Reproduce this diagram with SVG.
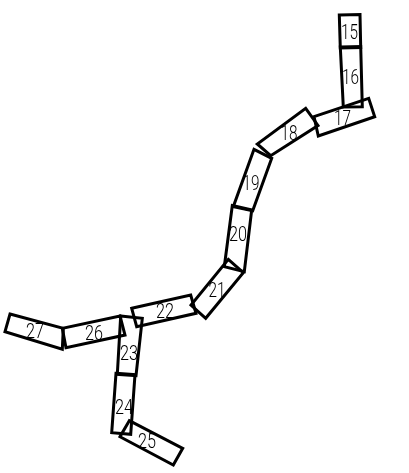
<svg xmlns="http://www.w3.org/2000/svg" width="409" height="473" viewBox="0 0 409 473">
<style>
polygon{fill:none;stroke:#000;stroke-width:3;stroke-linejoin:miter}
text{font-family:"Roboto","Liberation Sans",sans-serif;font-weight:300;font-size:20px;fill:#000;text-anchor:middle}
</style>
<defs><filter id="soft" x="0" y="0" width="409" height="473" filterUnits="userSpaceOnUse"><feGaussianBlur stdDeviation="0.3"/></filter></defs>
<rect width="409" height="473" fill="#fff"/>
<g filter="url(#soft)">
<g id="n15"><polygon points="339.3,15 360,14.5 360.7,47.5 340.3,48"/><text x="349.5" y="39" textLength="17" lengthAdjust="spacingAndGlyphs">15</text></g>
<g id="n16"><polygon points="340.3,47 360.7,46.5 362.3,106.7 343.3,107"/><text x="350.5" y="84" textLength="17" lengthAdjust="spacingAndGlyphs">16</text></g>
<g id="n17"><polygon points="314,116.7 368.7,98.3 374.7,116.7 318.3,136"/><text x="342.5" y="124.5" textLength="17" lengthAdjust="spacingAndGlyphs">17</text></g>
<g id="n18"><polygon points="305.7,108.3 318,125.5 270.7,155.7 257.3,144"/><text x="289" y="140" textLength="17" lengthAdjust="spacingAndGlyphs">18</text></g>
<g id="n19"><polygon points="254,149.3 271.7,158.3 252.7,210.7 233.3,206.7"/><text x="251" y="190" textLength="17" lengthAdjust="spacingAndGlyphs">19</text></g>
<g id="n20"><polygon points="232.3,205.5 251.7,210 244.3,271.7 224.3,266.7"/><text x="238" y="241" textLength="18" lengthAdjust="spacingAndGlyphs">20</text></g>
<g id="n21"><polygon points="228.3,259.3 243.3,272.7 205.7,318.3 191,305"/><text x="217" y="297" textLength="17" lengthAdjust="spacingAndGlyphs">21</text></g>
<g id="n22"><polygon points="131.7,308.3 190.7,295 196,313.3 136.7,326.7"/><text x="165" y="317.5" textLength="18" lengthAdjust="spacingAndGlyphs">22</text></g>
<g id="n23"><polygon points="120.7,316 142.3,318.3 136,375.7 117.3,374.3"/><text x="129" y="359.5" textLength="18" lengthAdjust="spacingAndGlyphs">23</text></g>
<g id="n24"><polygon points="116,373.3 135,374.7 130.7,434.3 111.7,432.7"/><text x="124" y="413.5" textLength="18" lengthAdjust="spacingAndGlyphs">24</text></g>
<g id="n25"><polygon points="129.3,420.7 182.7,448.3 173.3,465 120,436.7"/><text x="147" y="447.5" textLength="18" lengthAdjust="spacingAndGlyphs">25</text></g>
<g id="n26"><polygon points="120,316 125,335 66,347.7 62.3,328.3"/><text x="94" y="339.5" textLength="18" lengthAdjust="spacingAndGlyphs">26</text></g>
<g id="n27"><polygon points="10,314 63.3,328.3 62.3,349.3 5,331.7"/><text x="35" y="337.5" textLength="18" lengthAdjust="spacingAndGlyphs">27</text></g>
<g id="connectors"/>
</g>
</svg>
